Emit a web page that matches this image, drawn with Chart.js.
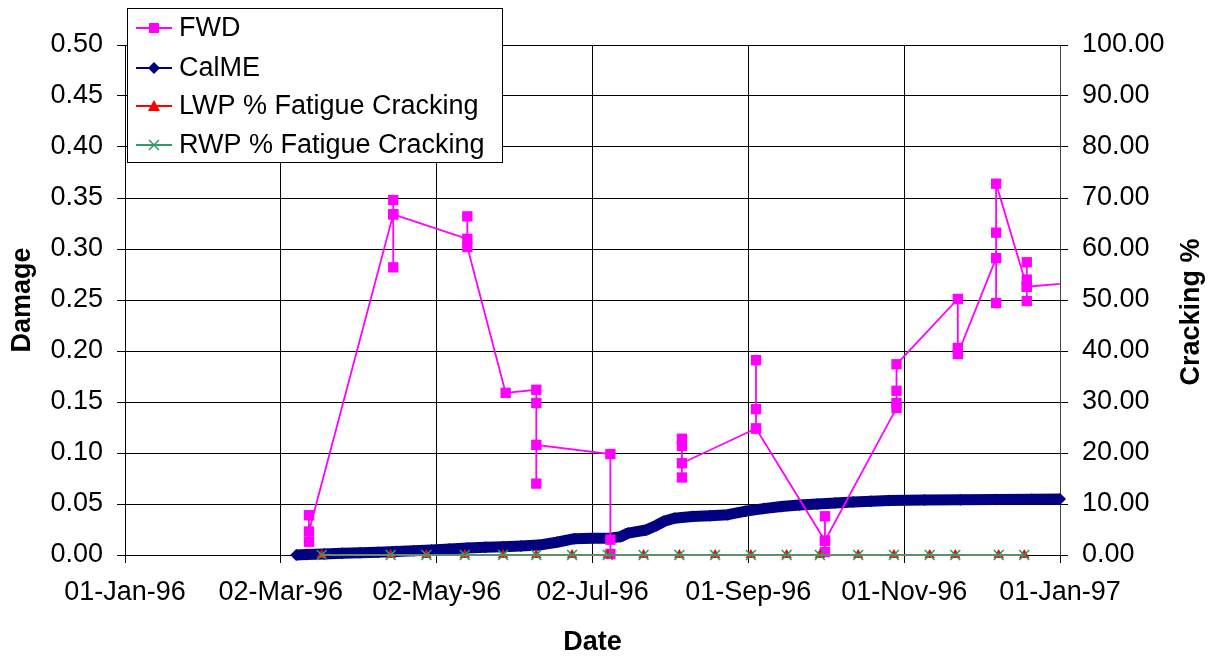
<!DOCTYPE html>
<html>
<head>
<meta charset="utf-8">
<title>Damage and Cracking</title>
<script src="https://cdn.jsdelivr.net/npm/chart.js@4.4.1/dist/chart.umd.min.js"></script>
<style>
body{margin:0;background:#fff;}
#wrap{width:1217px;height:659px;position:relative;}
</style>
</head>
<body>
<div id="wrap"><canvas id="graphOutputCanvas"></canvas></div>
<script>
//x axis labels (tick every 61 days from 01-Jan-96)
var xTickLabels = ["01-Jan-96", "02-Mar-96", "02-May-96", "02-Jul-96", "01-Sep-96", "01-Nov-96", "01-Jan-97"];

//FWD damage, several readings per test date (null = break in the line)
var fwdDates = [
    "1996-03-13", "1996-03-13", "1996-03-13",
    "1996-04-15", "1996-04-15", "1996-04-15", "1996-04-15",
    "1996-05-14", "1996-05-14", "1996-05-14",
    "1996-05-29",
    "1996-06-10", "1996-06-10", "1996-06-10", "1996-06-10",
    "1996-07-09", "1996-07-09", "1996-07-09",
    "1996-07-20",
    "1996-08-06", "1996-08-06", "1996-08-06", "1996-08-06",
    "1996-09-04", "1996-09-04", "1996-09-04", "1996-09-04",
    "1996-10-01", "1996-10-01", "1996-10-01", "1996-10-01",
    "1996-10-29", "1996-10-29", "1996-10-29", "1996-10-29",
    "1996-11-22", "1996-11-22", "1996-11-22",
    "1996-12-07", "1996-12-07", "1996-12-07", "1996-12-07",
    "1996-12-19", "1996-12-19", "1996-12-19", "1996-12-19", "1996-12-19",
    "1997-01-25"
];
var fwdDamage = [
    0.039, 0.013, 0.023,
    0.334, 0.348, 0.282, 0.334,
    0.310, 0.332, 0.302,
    0.159,
    0.162, 0.149, 0.070, 0.108,
    0.099, 0.015, 0.001,
    null,
    0.114, 0.107, 0.076, 0.090,
    0.124, 0.191, 0.143, 0.124,
    0.014, 0.038, 0.003, 0.014,
    0.144, 0.149, 0.161, 0.187,
    0.251, 0.203, 0.197,
    0.291, 0.247, 0.316, 0.364,
    0.263, 0.287, 0.249, 0.270, 0.263,
    0.271
];

//CalME predicted damage
var calmeDates = [
    "1996-03-08", "1996-03-12", "1996-03-19", "1996-03-26", "1996-04-02", "1996-04-09",
    "1996-04-16", "1996-04-23", "1996-04-30", "1996-05-07", "1996-05-14", "1996-05-21",
    "1996-05-28", "1996-06-04", "1996-06-11", "1996-06-18", "1996-06-25", "1996-07-02",
    "1996-07-09", "1996-07-13", "1996-07-16", "1996-07-23", "1996-07-27", "1996-07-30",
    "1996-08-03", "1996-08-10", "1996-08-17", "1996-08-24", "1996-08-31", "1996-09-07",
    "1996-09-14", "1996-09-21", "1996-09-28", "1996-10-05", "1996-10-12", "1996-10-19",
    "1996-10-26", "1996-11-09", "1996-11-23", "1996-12-07", "1996-12-21", "1997-01-01"
];
var calmeDamage = [
    0.0000, 0.0005, 0.0010, 0.0018, 0.0023, 0.0028,
    0.0035, 0.0042, 0.0050, 0.0060, 0.0068, 0.0075,
    0.0082, 0.0088, 0.0097, 0.0125, 0.0160, 0.0163,
    0.0165, 0.0180, 0.0215, 0.0245, 0.0290, 0.0330,
    0.0360, 0.0378, 0.0385, 0.0395, 0.0430, 0.0455,
    0.0475, 0.0490, 0.0500, 0.0510, 0.0520, 0.0528,
    0.0535, 0.0540, 0.0542, 0.0544, 0.0546, 0.0548
];

//cracking surveys
var crackDates = [
    "1996-03-18", "1996-04-14", "1996-04-28", "1996-05-13", "1996-05-28", "1996-06-10",
    "1996-06-24", "1996-07-08", "1996-07-22", "1996-08-05", "1996-08-19", "1996-09-02",
    "1996-09-16", "1996-09-29", "1996-10-14", "1996-10-28", "1996-11-11", "1996-11-21",
    "1996-12-08", "1996-12-18"
];
var lwpCracking = [0, 0, 0, 0, 0, 0, 0, 0, 0, 0, 0, 0, 0, 0, 0, 0, 0, 0, 0, 0];
var rwpCracking = [0, 0, 0, 0, 0, 0, 0, 0, 0, 0, 0, 0, 0, 0, 0, 0, 0, 0, 0, 0];

//days since 01-Jan-96
function dayNumber(s){
    var p = s.split("-");
    return (Date.UTC(+p[0], +p[1] - 1, +p[2]) - Date.UTC(1996, 0, 1)) / 86400000;
}

function toPoints(dates, values){
    var pts = [];
    for(var i = 0; i < dates.length; i++){
        pts.push({x: dayNumber(dates[i]), y: values[i]});
    }
    return pts;
}

var fontFamily = '"Liberation Sans", Arial, sans-serif';
var fontSize = 27;
Chart.defaults.font.family = fontFamily;
Chart.defaults.color = "#000";

function drawMarker(ctx, style, x, y, color){
    ctx.fillStyle = color;
    ctx.strokeStyle = color;
    ctx.beginPath();
    if(style == "square"){
        ctx.fillRect(x - 5, y - 5, 10, 10);
    }else if(style == "diamond"){
        ctx.moveTo(x, y - 6); ctx.lineTo(x + 6, y); ctx.lineTo(x, y + 6); ctx.lineTo(x - 6, y);
        ctx.closePath(); ctx.fill();
    }else if(style == "triangle"){
        ctx.moveTo(x, y - 6); ctx.lineTo(x + 6, y + 5); ctx.lineTo(x - 6, y + 5);
        ctx.closePath(); ctx.fill();
    }else if(style == "cross"){
        ctx.lineWidth = 1.5;
        ctx.moveTo(x - 5, y - 5); ctx.lineTo(x + 5, y + 5);
        ctx.moveTo(x + 5, y - 5); ctx.lineTo(x - 5, y + 5);
        ctx.stroke();
    }
}

//legend box inside the plot + right axis title
var legendBox = {
    id: "legendBox",
    afterDraw: function(chart){
        var ctx = chart.ctx;
        var entries = [
            {label: "FWD", color: "#FF00FF", marker: "square"},
            {label: "CalME", color: "#000080", marker: "diamond"},
            {label: "LWP % Fatigue Cracking", color: "#FF0000", marker: "triangle"},
            {label: "RWP % Fatigue Cracking", color: "#339966", marker: "cross"}
        ];
        var rows = [28, 68, 106, 145];
        ctx.save();
        ctx.fillStyle = "#fff";
        ctx.fillRect(127.5, 8.5, 375, 154);
        ctx.strokeStyle = "#000";
        ctx.lineWidth = 1;
        ctx.strokeRect(127.5, 8.5, 375, 154);
        ctx.font = fontSize + "px " + fontFamily;
        ctx.textBaseline = "middle";
        ctx.textAlign = "left";
        for(var i = 0; i < entries.length; i++){
            var e = entries[i];
            var y = rows[i];
            ctx.strokeStyle = e.color;
            ctx.lineWidth = 2;
            ctx.beginPath();
            ctx.moveTo(136, y);
            ctx.lineTo(172, y);
            ctx.stroke();
            drawMarker(ctx, e.marker, 154, y, e.color);
            ctx.fillStyle = "#000";
            ctx.fillText(e.label, 179, y + 1);
        }
        ctx.font = "bold " + fontSize + "px " + fontFamily;
        ctx.translate(1192, 312);
        ctx.rotate(-Math.PI / 2);
        ctx.textAlign = "center";
        ctx.fillStyle = "#000";
        ctx.fillText("Cracking %", 0, 0);
        ctx.restore();
    }
};

var currentChart = new Chart(document.getElementById("graphOutputCanvas"), {
    type: "scatter",
    data: {
        datasets: [{
            label: "FWD",
            data: toPoints(fwdDates, fwdDamage),
            yAxisID: "y",
            showLine: true,
            spanGaps: false,
            borderColor: "#FF00FF",
            borderWidth: 1.8,
            pointStyle: "rect",
            pointRadius: 7.3,
            pointBackgroundColor: "#FF00FF",
            pointBorderColor: "#FF00FF",
            pointBorderWidth: 0,
            clip: {left: false, top: false, right: 0, bottom: false},
            order: 2
        }, {
            label: "CalME",
            data: toPoints(calmeDates, calmeDamage),
            yAxisID: "y",
            showLine: true,
            borderColor: "#000080",
            borderWidth: 11,
            borderJoinStyle: "round",
            pointStyle: "rectRot",
            pointRadius: 6,
            pointBackgroundColor: "#000080",
            pointBorderColor: "#000080",
            pointBorderWidth: 0,
            clip: false,
            order: 3
        }, {
            label: "LWP % Fatigue Cracking",
            data: toPoints(crackDates, lwpCracking),
            yAxisID: "y2",
            showLine: true,
            borderColor: "#FF0000",
            borderWidth: 2,
            pointStyle: "triangle",
            pointRadius: 6,
            pointBackgroundColor: "#FF0000",
            pointBorderColor: "#FF0000",
            pointBorderWidth: 0,
            clip: false,
            order: 1
        }, {
            label: "RWP % Fatigue Cracking",
            data: toPoints(crackDates, rwpCracking),
            yAxisID: "y2",
            showLine: true,
            borderColor: "#5f8f68",
            borderWidth: 2,
            pointStyle: "crossRot",
            pointRadius: 7,
            pointBorderColor: "#339966",
            pointBorderWidth: 1.6,
            clip: false,
            order: 0
        }]
    },
    options: {
        responsive: true,
        maintainAspectRatio: false,
        animation: false,
        layout: {padding: {top: 45, left: 0, right: 0, bottom: 0}},
        plugins: {
            legend: {display: false},
            tooltip: {enabled: false}
        },
        scales: {
            x: {
                type: "linear",
                position: "bottom",
                min: 0,
                max: 366,
                afterFit: function(scale){ scale.height = 104; },
                ticks: {
                    stepSize: 61,
                    autoSkip: false,
                    maxRotation: 0,
                    padding: 13,
                    font: {size: fontSize},
                    color: "#000",
                    callback: function(value, index){ return xTickLabels[index]; }
                },
                grid: {color: "#000", lineWidth: 1, tickLength: 8},
                border: {color: "#000"},
                title: {display: true, text: "Date", font: {size: fontSize, weight: "bold"}, color: "#000", padding: {top: 0, bottom: 0}}
            },
            y: {
                position: "left",
                min: 0,
                max: 0.5,
                afterFit: function(scale){ scale.width = 125; },
                ticks: {
                    stepSize: 0.05,
                    padding: 14,
                    font: {size: fontSize},
                    color: "#000",
                    callback: function(value){ return value.toFixed(2); }
                },
                grid: {color: "#000", lineWidth: 1, tickLength: 8},
                border: {color: "#000"},
                title: {display: true, text: "Damage", font: {size: fontSize, weight: "bold"}, color: "#000", padding: {top: 6, bottom: 0}}
            },
            y2: {
                position: "right",
                min: 0,
                max: 100,
                afterFit: function(scale){ scale.width = 157; },
                ticks: {
                    stepSize: 10,
                    padding: 14,
                    font: {size: fontSize},
                    color: "#000",
                    callback: function(value){ return value.toFixed(2); }
                },
                grid: {drawOnChartArea: false, color: "#000", lineWidth: 1, tickLength: 8},
                border: {color: "#444"}
            }
        }
    },
    plugins: [legendBox]
});
</script>
</body>
</html>
